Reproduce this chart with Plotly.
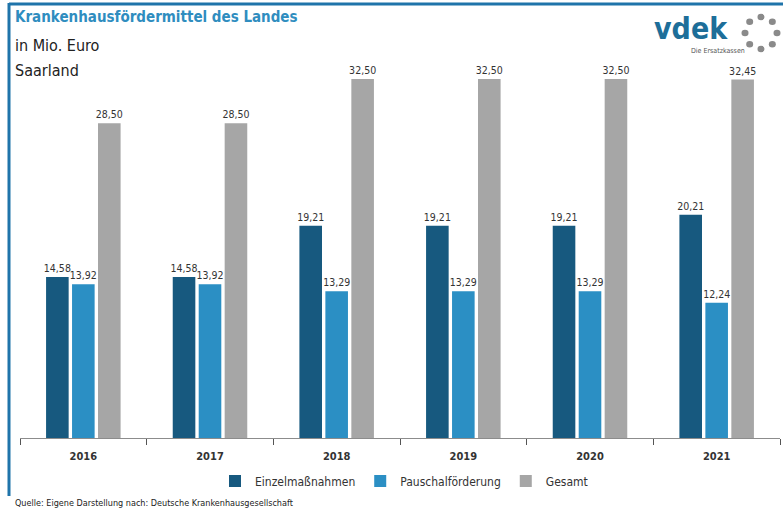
import math
import plotly.graph_objects as go

# Krankenhausfördermittel des Landes Saarland, in Mio. Euro
years = ["2016", "2017", "2018", "2019", "2020", "2021"]
einzel = [14.58, 14.58, 19.21, 19.21, 19.21, 20.21]
pauschal = [13.92, 13.92, 13.29, 13.29, 13.29, 12.24]
gesamt = [28.50, 28.50, 32.50, 32.50, 32.50, 32.45]

series_names = ["Einzelmaßnahmen", "Pauschalförderung", "Gesamt"]
series_colors = ["#17597f", "#2b8fc4", "#a6a6a6"]

W, H = 783, 511
ML, MR, MT, MB = 20, 3, 40, 73
PW, PH = W - ML - MR, H - MT - MB
YMAX = 36.03

FONT = "DejaVu Sans Condensed, Roboto, sans-serif"


def px(x):
    return (x - ML) / PW


def py(y):
    return (H - MB - y) / PH


def de(v):
    return f"{v:.2f}".replace(".", ",")


fig = go.Figure()
for name, vals, col in zip(series_names, [einzel, pauschal, gesamt], series_colors):
    fig.add_trace(go.Bar(
        x=years, y=vals, name=name, marker=dict(color=col, line=dict(width=0)),
        text=[de(v) for v in vals], textposition="outside", cliponaxis=False,
        constraintext="none",
        textfont=dict(family=FONT, size=10.5, color="#333333"),
        hoverinfo="skip",
    ))

shapes = [
    # blue frame on top and left
    dict(type="line", xref="paper", yref="paper", x0=px(9), x1=px(785), y0=py(4), y1=py(4),
         line=dict(color="#1f74aa", width=3)),
    dict(type="line", xref="paper", yref="paper", x0=px(9), x1=px(9), y0=py(3), y1=py(496),
         line=dict(color="#1f74aa", width=3)),
]

# ring of dots in the logo
cx, cy, r = 761, 33, 16
for k in range(8):
    a = math.pi / 2 - k * 2 * math.pi / 8
    dx, dy = cx + r * math.cos(a), cy - r * math.sin(a)
    shapes.append(dict(type="circle", xref="paper", yref="paper",
                       x0=px(dx - 3.5), x1=px(dx + 3.5), y0=py(dy - 3.2), y1=py(dy + 3.2),
                       fillcolor="#8a8a8a", line=dict(width=0)))

annotations = [
    dict(text="<b>Krankenhausfördermittel des Landes</b>", x=px(13), y=py(17),
         font=dict(family=FONT, size=15, color="#2f8dbf")),
    dict(text="in Mio. Euro", x=px(13), y=py(45), font=dict(family=FONT, size=16, color="#222222")),
    dict(text="Saarland", x=px(13), y=py(70), font=dict(family=FONT, size=16, color="#222222")),
    dict(text="Quelle: Eigene Darstellung nach: Deutsche Krankenhausgesellschaft", x=px(13), y=py(503),
         font=dict(family=FONT, size=9, color="#222222")),
    dict(text="<b>vdek</b>", x=px(652), y=py(28), font=dict(family=FONT, size=30, color="#1d6e99")),
    dict(text="Die Ersatzkassen", x=px(689), y=py(51), font=dict(family=FONT, size=7, color="#555555")),
]
for a in annotations:
    a.update(xref="paper", yref="paper", xanchor="left", yanchor="middle", showarrow=False)

fig.update_layout(
    width=W, height=H,
    margin=dict(l=ML, r=MR, t=MT, b=MB),
    paper_bgcolor="white", plot_bgcolor="white",
    barmode="group", bargap=0.385, bargroupgap=0.13,
    font=dict(family=FONT, size=12, color="#333333"),
    showlegend=True,
    legend=dict(orientation="h", x=px(404), xanchor="center", y=py(481), yanchor="middle",
                font=dict(family=FONT, size=12, color="#333333"), traceorder="normal",
                itemwidth=30, tracegroupgap=0),
    shapes=shapes, annotations=annotations,
    xaxis=dict(type="category", showgrid=False, showline=True, linecolor="#8c8c8c", linewidth=1,
               ticks="outside", tickson="boundaries", ticklen=6, tickcolor="#555555",
               ticklabelstandoff=8,
               tickfont=dict(family=FONT, size=11, color="#333333", weight="bold"), fixedrange=True),
    yaxis=dict(range=[0, YMAX], visible=False, showgrid=False, fixedrange=True),
)

fig.write_html("out.html")
